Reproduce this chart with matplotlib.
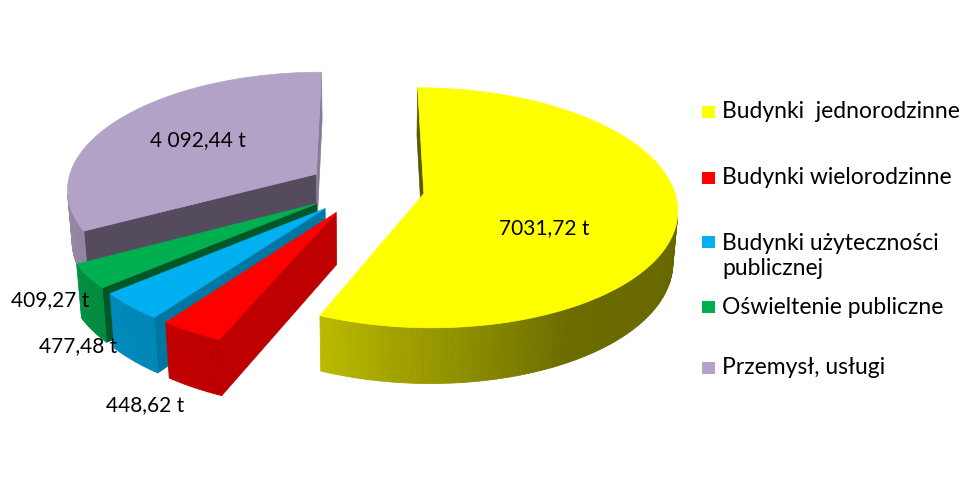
import numpy as np
import matplotlib.pyplot as plt
from matplotlib.patches import Polygon, Rectangle
from matplotlib.colors import to_rgb

# data
categories = ["Budynki  jednorodzinne", "Budynki wielorodzinne",
              "Budynki użyteczności\npublicznej", "Oświeltenie publiczne",
              "Przemysł, usługi"]
values = [7031.72, 448.62, 477.48, 409.27, 4092.44]
value_labels = ["7031,72 t", "448,62 t", "477,48 t", "409,27 t", "4 092,44 t"]
colors = ["#FFFF00", "#FF0000", "#00B0F0", "#00B050", "#B3A2C7"]

# layout (pixels)
label_pos = [(544, 228), (145, 405), (78, 346), (50, 300), (198, 140)]
legend_y = [112, 178, 256, 307, 368]
FONT = ["Lato", "DejaVu Sans"]

# fake 3D camera
elev = np.radians(29.5)
ce, se = np.cos(elev), np.sin(elev)
dist = 7.5
F = 1845
H = 0.235
R = 1.0
explode = 0.235
cx = 366
cy = 188 + F * H * ce / (dist - H * se)


def proj(x, y, z):
    x, y, z = np.asarray(x, float), np.asarray(y, float), np.asarray(z, float)
    yc = y * se + z * ce
    zc = dist + y * ce - z * se
    return cx + F * x / zc, cy - F * yc / zc


def shade(c, f):
    return tuple(np.clip(np.array(to_rgb(c)) * f, 0, 1))


def wall_factor(th):
    return np.interp(th, [90, 150, 205, 270, 300], [0.40, 0.42, 0.74, 0.86, 0.9])


def side_factor(phi):
    phi = phi % 360
    return np.interp(phi, [110, 126, 140, 155, 270], [0.76, 0.68, 0.5, 0.46, 0.35])


cam = np.array([0.0, -dist * ce])

fig = plt.figure(figsize=(9.8, 4.84), dpi=100)
ax = fig.add_axes([0, 0, 1, 1])
ax.set_xlim(0, 980)
ax.set_ylim(484, 0)
ax.axis("off")

total = sum(values)
slices = []
start = 0.0
for v, col in zip(values, colors):
    a1 = start
    a2 = start + 360.0 * v / total
    start = a2
    mid = np.radians((a1 + a2) / 2)
    off = explode * np.array([np.sin(mid), np.cos(mid)])
    cen = off + 0.5 * np.array([np.sin(mid), np.cos(mid)])
    depth = dist + cen[1] * ce
    slices.append((depth, a1, a2, off, col))

for k, (depth, a1, a2, off, col) in enumerate(sorted(slices, key=lambda s: -s[0])):
    z0 = 10 + k * 10
    n = max(3, int(a2 - a1) + 1)
    th = np.linspace(a1, a2, n)
    ax_ = off[0] + R * np.sin(np.radians(th))
    ay_ = off[1] + R * np.cos(np.radians(th))
    tx, ty = proj(ax_, ay_, H)
    bx, by = proj(ax_, ay_, 0)
    ox_t, oy_t = proj(off[0], off[1], H)
    ox_b, oy_b = proj(off[0], off[1], 0)

    # radial faces
    for ang, nang in ((a1, a1 - 90), (a2, a2 + 90)):
        nv = np.array([np.sin(np.radians(nang)), np.cos(np.radians(nang))])
        p = off + 0.5 * R * np.array([np.sin(np.radians(ang)), np.cos(np.radians(ang))])
        if nv @ (cam - p) <= 0:
            continue
        ex = off[0] + R * np.sin(np.radians(ang))
        ey = off[1] + R * np.cos(np.radians(ang))
        etx, ety = proj(ex, ey, H)
        ebx, eby = proj(ex, ey, 0)
        c = shade(col, side_factor(nang))
        ax.add_patch(Polygon([(ox_b, oy_b), (ox_t, oy_t), (etx, ety), (ebx, eby)],
                             closed=True, fc=c, ec=c, lw=0.5, zorder=z0))

    # outer wall
    for j in range(n - 1):
        tm = np.radians((th[j] + th[j + 1]) / 2)
        nv = np.array([np.sin(tm), np.cos(tm)])
        if nv @ (cam - (off + R * nv)) <= 0:
            continue
        c = shade(col, wall_factor(np.degrees(tm)))
        ax.add_patch(Polygon([(tx[j], ty[j]), (tx[j + 1], ty[j + 1]),
                              (bx[j + 1], by[j + 1]), (bx[j], by[j])],
                             closed=True, fc=c, ec=c, lw=0.6, zorder=z0 + 1))

    # top
    pts = [(ox_t, oy_t)] + list(zip(tx, ty))
    ax.add_patch(Polygon(pts, closed=True, fc=col, ec=col, lw=0.5, zorder=z0 + 2))

for txt, (lx, ly) in zip(value_labels, label_pos):
    ax.text(lx, ly, txt, ha="center", va="center", fontsize=15,
            family=FONT, color="black", zorder=100)

for name, col, ly in zip(categories, colors, legend_y):
    first = ly if "\n" not in name else ly - 14
    ax.add_patch(Rectangle((702, first - 6), 13, 12, fc=col, ec="none", zorder=100))
    ax.text(722, ly, name, ha="left", va="center", fontsize=16.5, family=FONT,
            linespacing=1.25, color="black", zorder=100)

fig.savefig("out.png", dpi=100)
